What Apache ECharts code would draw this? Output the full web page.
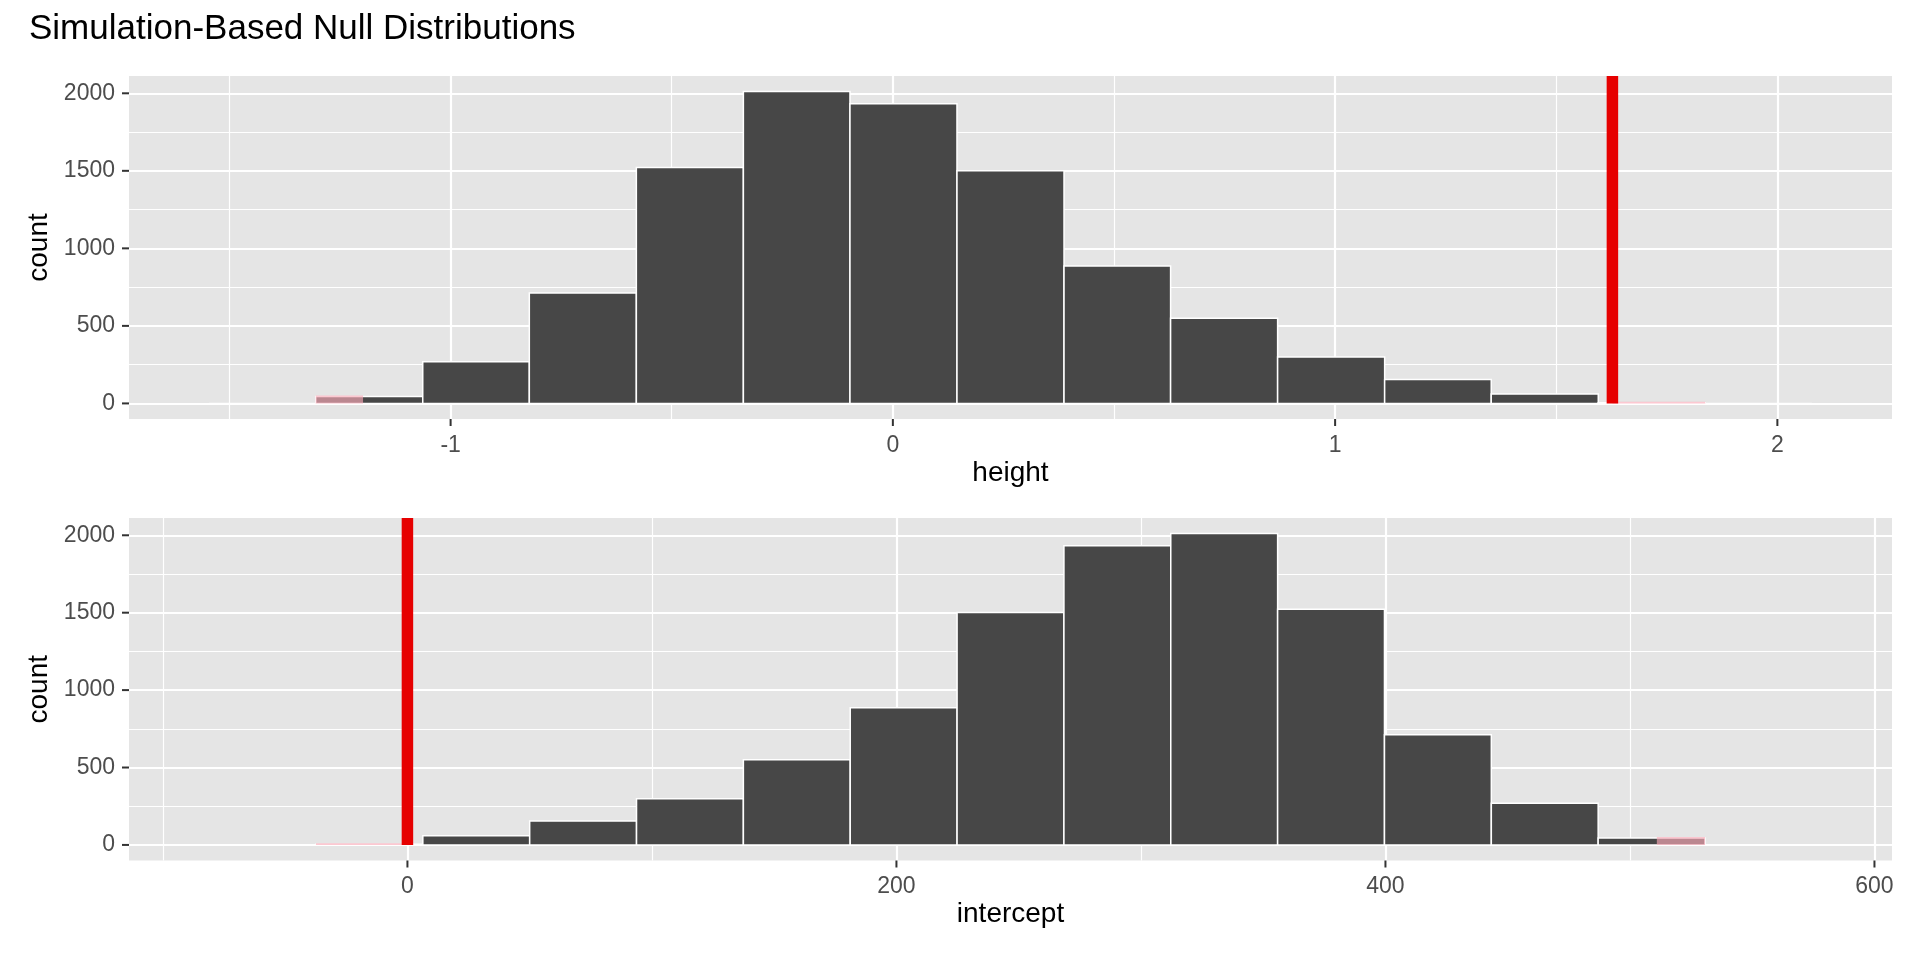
<!DOCTYPE html>
<html>
<head>
<meta charset="utf-8">
<script src="https://cdn.jsdelivr.net/npm/echarts@6/dist/echarts.min.js"></script>
<style>
html,body{margin:0;padding:0;background:#ffffff;}
#chart{width:1920px;height:960px;}
</style>
</head>
<body>
<div id="chart"></div>
<script>
// ---------------- data ----------------
const chartTitle = 'Simulation-Based Null Distributions';

// top panel: "height"
const heightBinEdges = [-1.546, -1.305, -1.063, -0.822, -0.580, -0.338, -0.097, 0.145, 0.387, 0.628, 0.870, 1.112, 1.353, 1.595, 1.837, 2.078];
const heightCounts   = [0, 45, 269, 712, 1522, 2011, 1933, 1501, 886, 550, 299, 155, 60, 5, 0];
const heightObsStat  = 1.627;
const heightMirror   = -1.198;
const heightTicks      = [-1, 0, 1, 2];
const heightMinorTicks = [-1.5, -0.5, 0.5, 1.5];

// bottom panel: "intercept"
const interceptBinEdges = [-81.1, -37.4, 6.3, 50.0, 93.7, 137.4, 181.1, 224.8, 268.5, 312.2, 355.9, 399.6, 443.3, 487.0, 530.7, 574.4];
const interceptCounts   = [0, 5, 60, 155, 299, 550, 886, 1501, 1933, 2011, 1522, 712, 269, 45, 0];
const interceptObsStat  = 0;
const interceptMirror   = 511;
const interceptTicks      = [0, 200, 400, 600];
const interceptMinorTicks = [-100, 100, 300, 500];

const countTicks      = [0, 500, 1000, 1500, 2000];
const countMinorTicks = [250, 750, 1250, 1750];

// ---------------- styling ----------------
const FONT = "'Liberation Sans', Arial, Helvetica, sans-serif";
const PANEL_BG = '#E5E5E5';
const BAR_FILL = '#474747';
const SHADE_FILL = 'rgba(250,170,185,0.65)';
const OBS_COLOR = '#E60000';
const TICK_COLOR = '#333333';
const TICK_LEN = 7;

const panels = [
  { name: 'height', edges: heightBinEdges, counts: heightCounts, obs: heightObsStat, mirror: heightMirror,
    ticks: heightTicks, minor: heightMinorTicks, top: 76, height: 343 },
  { name: 'intercept', edges: interceptBinEdges, counts: interceptCounts, obs: interceptObsStat, mirror: interceptMirror,
    ticks: interceptTicks, minor: interceptMinorTicks, top: 518, height: 342.5 }
];

function expand(lo, hi) { const d = (hi - lo) * 0.05; return [lo - d, hi + d]; }
function plainNum(v) { return String(v); }

const grids = [], xAxes = [], yAxes = [], series = [];

panels.forEach((p, g) => {
  const xr = expand(p.edges[0], p.edges[p.edges.length - 1]);
  const yr = expand(0, Math.max.apply(null, p.counts));
  grids.push({ left: 129, right: 28, top: p.top, height: p.height, show: true,
               backgroundColor: PANEL_BG, borderWidth: 0 });

  // major x axis (labels + major gridlines)
  xAxes.push({
    type: 'value', gridIndex: g, position: 'bottom', min: xr[0], max: xr[1],
    name: p.name, nameLocation: 'middle', nameGap: 40,
    nameTextStyle: { color: '#000000', fontSize: 28, fontFamily: FONT },
    axisLine: { show: false, onZero: false },
    axisTick: { show: false, customValues: p.ticks },
    axisLabel: { show: true, customValues: p.ticks, formatter: plainNum, color: '#4D4D4D', fontSize: 23, fontFamily: FONT, margin: 15 },
    splitLine: { show: true, lineStyle: { color: '#FFFFFF', width: 2.2 } }
  });
  // minor x gridlines
  xAxes.push({
    type: 'value', gridIndex: g, position: 'top', min: xr[0], max: xr[1],
    axisLine: { show: false, onZero: false },
    axisTick: { show: false, customValues: p.minor },
    axisLabel: { show: false, customValues: p.minor },
    splitLine: { show: true, lineStyle: { color: '#FFFFFF', width: 1.2 } }
  });
  // major y axis
  yAxes.push({
    type: 'value', gridIndex: g, position: 'left', min: yr[0], max: yr[1],
    name: 'count', nameLocation: 'middle', nameGap: 57,
    nameTextStyle: { color: '#000000', fontSize: 28, fontFamily: FONT },
    axisLine: { show: false, onZero: false },
    axisTick: { show: false, customValues: countTicks },
    axisLabel: { show: true, customValues: countTicks, formatter: plainNum, color: '#4D4D4D', fontSize: 23, fontFamily: FONT, margin: 14 },
    splitLine: { show: true, lineStyle: { color: '#FFFFFF', width: 2.2 } }
  });
  // minor y gridlines
  yAxes.push({
    type: 'value', gridIndex: g, position: 'right', min: yr[0], max: yr[1],
    axisLine: { show: false, onZero: false },
    axisTick: { show: false, customValues: countMinorTicks },
    axisLabel: { show: false, customValues: countMinorTicks },
    splitLine: { show: true, lineStyle: { color: '#FFFFFF', width: 1.2 } }
  });

  const bins = p.counts.map((c, i) => [p.edges[i], p.edges[i + 1], c]);
  const xIdx = g * 2, yIdx = g * 2;

  // histogram bars
  series.push({
    type: 'custom', xAxisIndex: xIdx, yAxisIndex: yIdx, z: 2, silent: true,
    data: bins, encode: { x: [0, 1], y: 2 },
    renderItem: function (params, api) {
      const a = api.coord([api.value(0), api.value(2)]);
      const b = api.coord([api.value(1), 0]);
      return { type: 'rect',
        shape: { x: a[0], y: a[1], width: b[0] - a[0], height: b[1] - a[1] },
        style: { fill: BAR_FILL, stroke: '#FFFFFF', lineWidth: 1.5 } };
    }
  });

  // p-value shading (both tails)
  const lo = Math.min(p.obs, p.mirror), hi = Math.max(p.obs, p.mirror);
  series.push({
    type: 'custom', xAxisIndex: xIdx, yAxisIndex: yIdx, z: 3, silent: true,
    data: bins, encode: { x: [0, 1], y: 2 },
    renderItem: function (params, api) {
      const x0 = api.value(0), x1 = api.value(1), c = api.value(2);
      if (!(c > 0)) return null;
      const parts = [];
      if (x0 < lo) parts.push([x0, Math.min(x1, lo)]);
      if (x1 > hi) parts.push([Math.max(x0, hi), x1]);
      if (!parts.length) return null;
      return { type: 'group', children: parts.map(function (seg) {
        const a = api.coord([seg[0], c]);
        const b = api.coord([seg[1], 0]);
        return { type: 'rect',
          shape: { x: a[0], y: a[1] - 1, width: b[0] - a[0], height: b[1] - a[1] + 1 },
          style: { fill: SHADE_FILL } };
      }) };
    }
  });

  // observed statistic line
  series.push({
    type: 'line', xAxisIndex: xIdx, yAxisIndex: yIdx, z: 4, silent: true,
    symbol: 'none', data: [[p.obs, 0], [p.obs, yr[1]]],
    lineStyle: { color: OBS_COLOR, width: 11.5, cap: 'butt' }
  });

  // x-axis tick marks (outside, below the panel)
  series.push({
    type: 'custom', xAxisIndex: xIdx, yAxisIndex: yIdx, z: 5, silent: true, clip: false,
    data: p.ticks.map(v => [v, yr[0]]), encode: { x: 0, y: 1 },
    renderItem: function (params, api) {
      const pt = api.coord([api.value(0), api.value(1)]);
      return { type: 'line', shape: { x1: pt[0], y1: pt[1], x2: pt[0], y2: pt[1] + TICK_LEN },
               style: { stroke: TICK_COLOR, lineWidth: 2 } };
    }
  });
  // y-axis tick marks (outside, left of the panel)
  series.push({
    type: 'custom', xAxisIndex: xIdx, yAxisIndex: yIdx, z: 5, silent: true, clip: false,
    data: countTicks.map(v => [xr[0], v]), encode: { x: 0, y: 1 },
    renderItem: function (params, api) {
      const pt = api.coord([api.value(0), api.value(1)]);
      return { type: 'line', shape: { x1: pt[0] - TICK_LEN, y1: pt[1], x2: pt[0], y2: pt[1] },
               style: { stroke: TICK_COLOR, lineWidth: 2 } };
    }
  });
});

const chart = echarts.init(document.getElementById('chart'), null, { renderer: 'canvas' });
chart.setOption({
  animation: false,
  backgroundColor: '#FFFFFF',
  title: { text: chartTitle, left: 29, top: 12, padding: 0,
           textStyle: { color: '#000000', fontSize: 35, fontWeight: 'normal', fontFamily: FONT } },
  grid: grids,
  xAxis: xAxes,
  yAxis: yAxes,
  series: series
});
</script>
</body>
</html>
